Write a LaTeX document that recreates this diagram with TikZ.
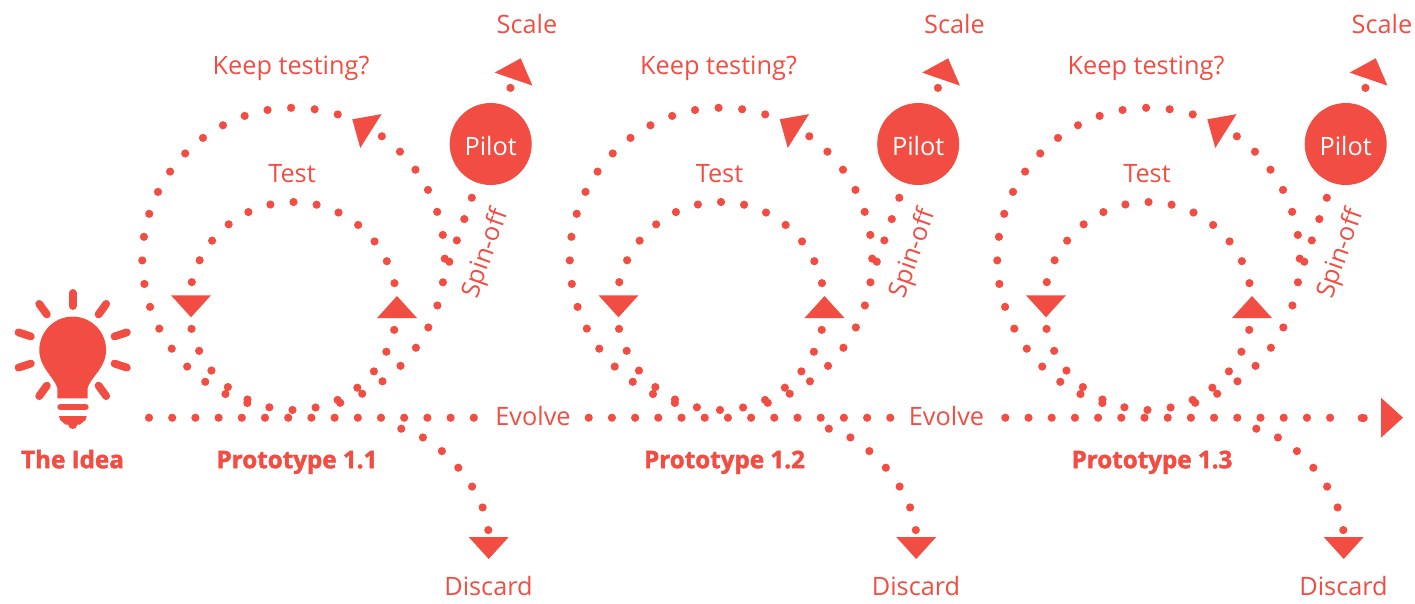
\documentclass[tikz,border=0pt]{standalone}
\usepackage{fontspec}
\setmainfont[BoldFeatures={FakeBold=1.8}]{Open Sans}
\usetikzlibrary{shapes.geometric}
\definecolor{ideared}{HTML}{F24D42}

\begin{document}
\begin{tikzpicture}[
    x=1pt, y=1pt,
    dotline/.style={draw=ideared, line width=8.2pt, line cap=round, dash pattern=on 0pt off #1},
    dotline/.default=23.2pt,
    head/.style={isosceles triangle, isosceles triangle apex angle=84.5, fill=ideared, inner sep=0pt, outer sep=0pt, minimum height=22pt, anchor=apex},
    word/.style={text=ideared, font=\fontsize{25.3}{25}\selectfont, text height=19pt, text depth=0pt, inner sep=3pt},
    bold word/.style={word, font=\fontsize{24.2}{25}\selectfont\bfseries},
    ray/.style={draw=ideared, line width=7.8pt, line cap=round}
]
\useasboundingbox (0,0) rectangle (1415,-603);

\fill[ideared] (57.3,-398.3) -- (57.3,-388) .. controls (55,-378) and (39.3,-368) .. (39.3,-350)
    arc[start angle=180, end angle=0, radius=33.4]
    .. controls (106.1,-368) and (90,-378) .. (87.7,-388) -- (87.7,-398.3) -- cycle;
\draw[ray, line width=6.6pt] (60.6,-407) -- (85.4,-407);
\fill[ideared] (59,-416) -- (86.7,-416) -- (85.5,-420) -- (80,-424.5) -- (77.5,-424.5)
    .. controls (76.5,-430.5) and (69,-430.5) .. (68,-424.5) -- (65.5,-424.5) -- (60.2,-420) -- cycle;
\foreach \a in {18,54,90,126,162,198,234,306,342}
    \draw[ray] (72.7,-350) ++(\a:44) -- ++(\a:13);
\node[bold word] (idea) at (72.5,-458.7) {The Idea};

\node[word] (evolve1) at (533,-416) {Evolve};
\node[word] (evolve2) at (946.5,-416) {Evolve};
\coordinate (line1) at (149,-417.7);
\coordinate (line2) at (588.7,-417.7);
\coordinate (line3) at (1005.3,-417.7);
\coordinate (stop) at (1331,-417.7);
\coordinate (last) at (1361.7,-417.7);
\node[head, rotate=0] (go) at (1403,-417.7) {};
\draw[dotline] (line1) -- (line1 -| evolve1.west);
\draw[dotline] (line2) -- (line2 -| evolve2.west);
\draw[dotline] (line3) -- (stop);
\draw[dotline, dash pattern=on 2pt off 40pt] (last) -- (last -| go.lower side);

\foreach \n/\dx in {1/0, 2/427.5, 3/855} {
\begin{scope}[xshift=\dx pt]
    \coordinate (test\n) at (293,-306);
    \coordinate (keep\n) at (293.5,-259);
    \coordinate (spin\n) at (449.3,-261.7);
    \coordinate (fork\n) at (401.3,-428.7);

    \node[word] (testlabel\n) at (292,-172.5) {Test};
    \node[word] (keeplabel\n) at (291,-64.5) {Keep testing?};
    \node[word] (scalelabel\n) at (527,-23.7) {Scale};
    \node[word] (discardlabel\n) at (488.5,-586) {Discard};
    \node[word, rotate=70.6] (spinlabel\n) at (483.5,-253) {Spin-off};
    \node[bold word] (proto\n) at (297,-458.7) {Prototype 1.\n};
    \node[circle, fill=ideared, minimum size=82pt, inner sep=0pt, text=white, text height=23pt, text depth=0pt,
        font=\fontsize{25.3}{25}\selectfont] (pilot\n) at (490.7,-144) {Pilot};

    \node[head, rotate=-90] (down\n) at (191,-317.3) {};
    \node[head, rotate=90] (up\n) at (397,-296) {};
    \node[head, rotate=147.8] (again\n) at (352.3,-119.3) {};
    \node[head, rotate=71] (scale\n) at (520.7,-58.3) {};
    \node[head, rotate=-90] (discard\n) at (488.7,-559) {};

    \draw[dotline=23.3pt] ([shift={(12.7:104)}]test\n) arc[start angle=12.7, end angle=167.3, radius=104];
    \draw[dotline=23.3pt] ([shift={(192.7:104)}]test\n) arc[start angle=192.7, end angle=347.3, radius=104];
    \draw[dotline=23.8pt] ([shift={(-72:151.2)}]keep\n) arc[start angle=-72, end angle=54.6, radius=151.2];
    \draw[dotline=23.65pt] ([shift={(73:151.2)}]keep\n) arc[start angle=73, end angle=252.5, radius=151.2];
    \draw[dotline=22.6pt] (spin\n) -- (pilot\n);
    \draw[dotline=23.7pt, dash phase=5.4pt] (pilot\n) -- (scale\n.lower side);
    \draw[dotline=23.4pt] (fork\n) .. controls +(38.7,-8.3) and +(0,45) .. (discard\n.lower side);
\end{scope}
}
\end{tikzpicture}
\end{document}
